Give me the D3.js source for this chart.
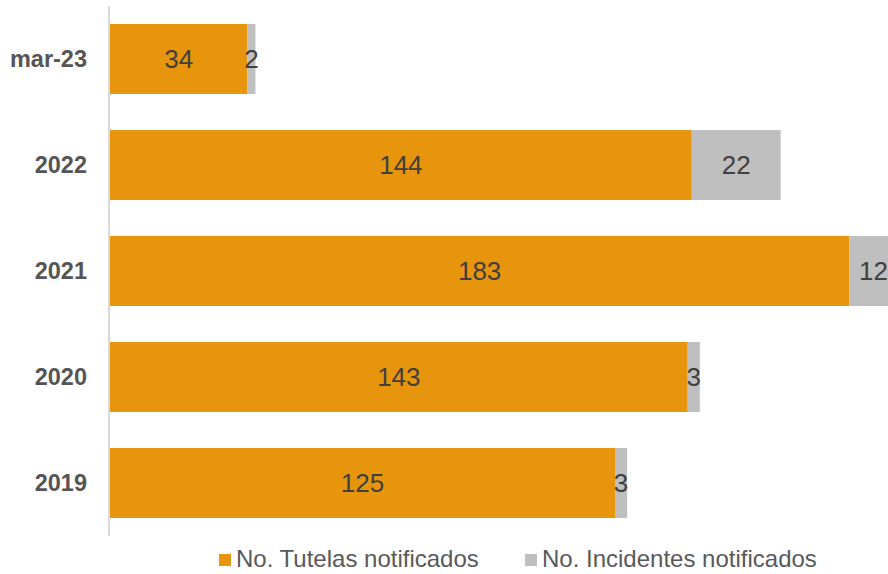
<!DOCTYPE html>
<html>
<head>
<meta charset="utf-8">
<script src="https://cdn.jsdelivr.net/npm/d3@7"></script>
<style>
  html, body { margin: 0; padding: 0; background: #fff; }
  svg { display: block; font-family: "Liberation Sans", Arial, sans-serif; }
</style>
</head>
<body>
<svg id="chart" width="888" height="574"></svg>
<script>
// Periods, top to bottom
const categories = ["mar-23", "2022", "2021", "2020", "2019"];
// Stacked series
const tutelas = [34, 144, 183, 143, 125];
const incidentes = [2, 22, 12, 3, 3];
const seriesNames = ["No. Tutelas notificados", "No. Incidentes notificados"];
const seriesColors = ["#E8950E", "#BFBFBF"];

const svg = d3.select("#chart");

const x = d3.scaleLinear().domain([0, 200]).range([110, 918]);
const y = d3.scaleBand().domain(categories).range([6, 536])
  .paddingInner(0.34).paddingOuter(0.17);

const rows = categories.map((c, i) => ({ cat: c, tutelas: tutelas[i], incidentes: incidentes[i] }));
const stack = d3.stack().keys(["tutelas", "incidentes"]);
const layers = stack(rows);

// Bars
const g = svg.append("g");
layers.forEach((layer, li) => {
  g.selectAll(null).data(layer).enter().append("rect")
    .attr("x", d => x(d[0]))
    .attr("y", d => y(d.data.cat))
    .attr("width", d => x(d[1]) - x(d[0]))
    .attr("height", y.bandwidth())
    .attr("fill", seriesColors[li]);
});

// Vertical category axis line
svg.append("line")
  .attr("x1", 109).attr("x2", 109)
  .attr("y1", 6).attr("y2", 536)
  .attr("stroke", "#D9D9D9").attr("stroke-width", 2);

// Category labels
const yAxis = d3.axisLeft(y).tickSize(0).tickPadding(0);
const ax = svg.append("g").attr("transform", "translate(87,0)").call(yAxis);
ax.select(".domain").remove();
ax.selectAll("text")
  .attr("font-size", 23.5).attr("font-weight", "bold")
  .attr("fill", "#555555")
  .attr("font-family", "'Liberation Sans', Arial, sans-serif")
  .attr("dy", "0.36em");

// Value labels centred in each segment
layers.forEach(layer => {
  g.selectAll(null).data(layer).enter().append("text")
    .attr("x", d => (x(d[0]) + x(d[1])) / 2)
    .attr("y", d => y(d.data.cat) + y.bandwidth() / 2)
    .attr("dy", "0.36em")
    .attr("text-anchor", "middle")
    .attr("font-size", 26)
    .attr("fill", "#404040")
    .text(d => d[1] - d[0]);
});

// Legend
const legendX = [219, 525];
const lg = svg.append("g");
seriesNames.forEach((name, i) => {
  lg.append("rect")
    .attr("x", legendX[i]).attr("y", 554)
    .attr("width", 12).attr("height", 12)
    .attr("fill", seriesColors[i]);
  lg.append("text")
    .attr("x", legendX[i] + 17).attr("y", 567)
    .attr("font-size", 24)
    .attr("fill", "#595959")
    .text(name);
});
</script>
</body>
</html>
